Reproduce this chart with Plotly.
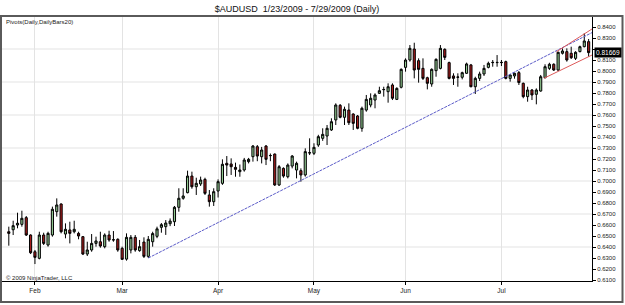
import plotly.graph_objects as go
import pandas as pd

# ---------------- data ----------------
dates = pd.bdate_range("2009-01-23", "2009-07-29").strftime("%Y-%m-%d").tolist()

opens = [0.6539, 0.6557, 0.6600, 0.6606, 0.6667, 0.6509, 0.6357, 0.6297, 0.6509, 0.6418,
         0.6509, 0.6721, 0.6791, 0.6518, 0.6555, 0.6539, 0.6524, 0.6494, 0.6336, 0.6373,
         0.6433, 0.6448, 0.6403, 0.6509, 0.6464, 0.6470, 0.6388, 0.6290, 0.6373, 0.6488,
         0.6367, 0.6445, 0.6315, 0.6448, 0.6497, 0.6579, 0.6585, 0.6612, 0.6630, 0.6761,
         0.6843, 0.6894, 0.7045, 0.6948, 0.6973, 0.7015, 0.6873, 0.6812, 0.6909, 0.6979,
         0.7161, 0.7155, 0.7124, 0.7085, 0.7100, 0.7176, 0.7221, 0.7312, 0.7221, 0.7318,
         0.7230, 0.7245, 0.6964, 0.7115, 0.7039, 0.7136, 0.7100, 0.7094, 0.7055, 0.7255,
         0.7252, 0.7327, 0.7388, 0.7409, 0.7464, 0.7555, 0.7688, 0.7579, 0.7645, 0.7609,
         0.7591, 0.7479, 0.7645, 0.7691, 0.7736, 0.7797, 0.7830, 0.7812, 0.7873, 0.7742,
         0.7852, 0.8033, 0.8100, 0.8200, 0.8094, 0.8024, 0.7939, 0.7882, 0.8003, 0.8024,
         0.8197, 0.8076, 0.7955, 0.7943, 0.7943, 0.7979, 0.8055, 0.7857, 0.7933, 0.7973,
         0.8033, 0.8076, 0.8076, 0.8076, 0.8085, 0.7933, 0.7955, 0.7985, 0.7888, 0.7767,
         0.7827, 0.7788, 0.7818, 0.7939, 0.8024, 0.8061, 0.8009, 0.8161, 0.8176, 0.8161,
         0.8115, 0.8176, 0.8221, 0.8267]

highs = [0.6585, 0.6639, 0.6712, 0.6730, 0.6682, 0.6515, 0.6373, 0.6539, 0.6530, 0.6539,
         0.6767, 0.6842, 0.6797, 0.6615, 0.6630, 0.6639, 0.6539, 0.6500, 0.6448, 0.6518,
         0.6494, 0.6539, 0.6524, 0.6548, 0.6545, 0.6479, 0.6403, 0.6524, 0.6509, 0.6509,
         0.6464, 0.6488, 0.6500, 0.6539, 0.6585, 0.6618, 0.6645, 0.6660, 0.6773, 0.6934,
         0.6934, 0.7094, 0.7085, 0.7030, 0.7040, 0.7030, 0.6918, 0.6934, 0.7015, 0.7197,
         0.7227, 0.7206, 0.7167, 0.7150, 0.7210, 0.7210, 0.7327, 0.7327, 0.7310, 0.7327,
         0.7250, 0.7250, 0.7145, 0.7124, 0.7160, 0.7236, 0.7176, 0.7115, 0.7297, 0.7388,
         0.7343, 0.7420, 0.7479, 0.7509, 0.7570, 0.7706, 0.7700, 0.7676, 0.7706, 0.7615,
         0.7600, 0.7676, 0.7782, 0.7797, 0.7797, 0.7857, 0.7857, 0.7888, 0.7888, 0.7852,
         0.8024, 0.8115, 0.8236, 0.8257, 0.8115, 0.8115, 0.7948, 0.8024, 0.8115, 0.8236,
         0.8206, 0.8085, 0.7979, 0.7979, 0.7994, 0.8076, 0.8064, 0.7948, 0.7994, 0.8055,
         0.8085, 0.8100, 0.8145, 0.8100, 0.8094, 0.7970, 0.7985, 0.8000, 0.7895, 0.7857,
         0.7836, 0.7842, 0.7964, 0.8061, 0.8075, 0.8070, 0.8176, 0.8206, 0.8206, 0.8221,
         0.8180, 0.8230, 0.8343, 0.8291]

lows = [0.6412, 0.6509, 0.6570, 0.6585, 0.6500, 0.6336, 0.6245, 0.6288, 0.6418, 0.6403,
        0.6494, 0.6676, 0.6524, 0.6479, 0.6433, 0.6524, 0.6470, 0.6327, 0.6318, 0.6357,
        0.6403, 0.6394, 0.6388, 0.6448, 0.6448, 0.6357, 0.6282, 0.6276, 0.6342, 0.6357,
        0.6357, 0.6300, 0.6300, 0.6403, 0.6480, 0.6530, 0.6510, 0.6590, 0.6591, 0.6721,
        0.6830, 0.6888, 0.6930, 0.6873, 0.6955, 0.6873, 0.6767, 0.6773, 0.6850, 0.6965,
        0.7045, 0.7055, 0.7039, 0.7039, 0.7085, 0.7160, 0.7176, 0.7180, 0.7160, 0.7145,
        0.7180, 0.6955, 0.6955, 0.7030, 0.7024, 0.7115, 0.7024, 0.6994, 0.7040, 0.7236,
        0.7236, 0.7310, 0.7365, 0.7327, 0.7455, 0.7509, 0.7570, 0.7509, 0.7509, 0.7464,
        0.7470, 0.7448, 0.7630, 0.7670, 0.7661, 0.7791, 0.7767, 0.7712, 0.7736, 0.7736,
        0.7842, 0.7994, 0.8085, 0.7933, 0.7894, 0.7918, 0.7833, 0.7857, 0.7948, 0.8015,
        0.8100, 0.7924, 0.7873, 0.7857, 0.7924, 0.7973, 0.7852, 0.7791, 0.7909, 0.7955,
        0.8024, 0.8039, 0.8039, 0.8045, 0.7924, 0.7903, 0.7930, 0.7873, 0.7752, 0.7721,
        0.7736, 0.7697, 0.7812, 0.7933, 0.8010, 0.8000, 0.8000, 0.8150, 0.8085, 0.8109,
        0.8100, 0.8170, 0.8215, 0.8130]

closes = [0.6524, 0.6594, 0.6616, 0.6661, 0.6509, 0.6348, 0.6306, 0.6509, 0.6433, 0.6524,
          0.6743, 0.6782, 0.6539, 0.6561, 0.6524, 0.6561, 0.6500, 0.6336, 0.6373, 0.6433,
          0.6455, 0.6409, 0.6509, 0.6464, 0.6466, 0.6373, 0.6288, 0.6488, 0.6488, 0.6373,
          0.6403, 0.6315, 0.6470, 0.6522, 0.6565, 0.6603, 0.6618, 0.6636, 0.6761, 0.6843,
          0.6864, 0.7045, 0.6948, 0.6979, 0.7009, 0.6888, 0.6812, 0.6903, 0.6994, 0.7152,
          0.7145, 0.7130, 0.7106, 0.7100, 0.7191, 0.7197, 0.7318, 0.7227, 0.7282, 0.7197,
          0.7232, 0.6964, 0.7130, 0.7045, 0.7145, 0.7227, 0.7161, 0.7055, 0.7267, 0.7257,
          0.7306, 0.7403, 0.7424, 0.7479, 0.7539, 0.7691, 0.7579, 0.7652, 0.7530, 0.7524,
          0.7479, 0.7661, 0.7742, 0.7752, 0.7782, 0.7821, 0.7832, 0.7857, 0.7752, 0.7842,
          0.8015, 0.8100, 0.8206, 0.8009, 0.8015, 0.7933, 0.7888, 0.8015, 0.8106, 0.8206,
          0.8124, 0.7933, 0.7933, 0.7945, 0.7985, 0.8064, 0.7857, 0.7933, 0.7973, 0.8024,
          0.8070, 0.8078, 0.8078, 0.8078, 0.7933, 0.7964, 0.7979, 0.7895, 0.7767, 0.7827,
          0.7782, 0.7827, 0.7948, 0.8039, 0.8061, 0.8009, 0.8170, 0.8182, 0.8100, 0.8121,
          0.8170, 0.8221, 0.8273, 0.81669]

month_labels = ["Feb", "Mar", "Apr", "May", "Jun", "Jul"]
y_tick_values = [round(0.61 + 0.01 * k, 2) for k in range(24)]
h_grid_values = [0.64, 0.67, 0.70, 0.73, 0.76, 0.79, 0.82]

# drawn trend lines (bar index, price)
blue_line_x = [32, 133.77]
blue_line_y = [0.6300, 0.8349]
red_upper_x = [125.6, 133.77]
red_upper_y = [0.8175, 0.8382]
red_lower_x = [122.75, 133.77]
red_lower_y = [0.7934, 0.8145]

title_text = "$AUDUSD\u00a0 1/23/2009 - 7/29/2009 (Daily)"
indicator_text = "Pivots(Daily,DailyBars20)"
copyright_text = "\u00a9 2009 NinjaTrader, LLC"

# ---------------- figure ----------------
idx = list(range(len(dates)))
month_starts = [i for i in idx if i > 0 and dates[i][5:7] != dates[i - 1][5:7]]

W, H = 625, 305
ML, MR, MT, MB = 2, 33, 16, 24
FONT = "Liberation Sans, Arial, sans-serif"

# the last-price marker hides the tick label it sits on
last = closes[-1]
y_tick_text = ["" if abs(v - last) < 0.005 else f"{v:.4f}" for v in y_tick_values]

fig = go.Figure()
fig.add_trace(go.Candlestick(
    x=idx, open=opens, high=highs, low=lows, close=closes,
    increasing=dict(line=dict(color="#000000", width=1), fillcolor="#90c890"),
    decreasing=dict(line=dict(color="#000000", width=1), fillcolor="#a81c1c"),
    whiskerwidth=0, showlegend=False, hoverinfo="skip",
))
fig.add_trace(go.Scatter(x=blue_line_x, y=blue_line_y, mode="lines",
                         line=dict(color="#5b5bc8", width=1, dash="3px,1px"),
                         showlegend=False, hoverinfo="skip"))
fig.add_trace(go.Scatter(x=red_upper_x, y=red_upper_y, mode="lines",
                         line=dict(color="#dd5a5a", width=1),
                         showlegend=False, hoverinfo="skip"))
fig.add_trace(go.Scatter(x=red_lower_x, y=red_lower_y, mode="lines",
                         line=dict(color="#dd5a5a", width=1),
                         showlegend=False, hoverinfo="skip"))

shapes = []
for v in h_grid_values:
    shapes.append(dict(type="line", xref="paper", yref="y", x0=0, x1=1, y0=v, y1=v,
                       line=dict(color="#e3e3e3", width=1), layer="below"))
pw, ph = W - ML - MR, H - MT - MB
def px_x(p):
    return (p - ML) / pw
def px_y(p):
    return (H - MB - p) / ph
shapes.append(dict(type="rect", xref="paper", yref="paper",
                   x0=px_x(1), x1=px_x(622.5), y0=px_y(302), y1=1.0,
                   line=dict(color="#5a5a5a", width=2), fillcolor="rgba(0,0,0,0)", layer="above"))

annotations = [
    dict(text=indicator_text, xref="paper", yref="paper", x=px_x(4), y=px_y(22),
         xanchor="left", yanchor="middle", showarrow=False,
         font=dict(family=FONT, size=6, color="#222")),
    dict(text=copyright_text, xref="paper", yref="paper", x=px_x(4), y=px_y(277.5),
         xanchor="left", yanchor="middle", showarrow=False,
         font=dict(family=FONT, size=6, color="#222")),
    dict(text=f"{last:.5f}", xref="paper", yref="y", x=1.0, xshift=2, y=last,
         xanchor="left", yanchor="middle", showarrow=False, bgcolor="#000000",
         borderpad=1, font=dict(family=FONT, size=6.5, color="#ffffff")),
]

fig.update_layout(
    template="none",
    width=W, height=H,
    margin=dict(l=ML, r=MR, t=MT, b=MB, pad=0),
    paper_bgcolor="white", plot_bgcolor="white",
    title=dict(text=title_text, x=0.5, xref="paper", xanchor="center",
               y=1 - 8.5 / H, yref="container", yanchor="middle",
               font=dict(family=FONT, size=9, color="#111")),
    shapes=shapes, annotations=annotations,
    xaxis=dict(range=[-1.56, 133.77], tickmode="array", tickvals=month_starts,
               ticktext=month_labels[:len(month_starts)],
               showgrid=True, gridcolor="#e3e3e3", gridwidth=1, zeroline=False,
               showline=True, linecolor="#000000", linewidth=1,
               ticks="outside", ticklen=3, tickcolor="#000000",
               tickfont=dict(family=FONT, size=6.5, color="#222"),
               rangeslider=dict(visible=False), automargin=False, fixedrange=True),
    yaxis=dict(range=[0.6091, 0.8500], side="right", tickmode="array",
               tickvals=y_tick_values, ticktext=y_tick_text,
               showgrid=False, zeroline=False,
               showline=True, linecolor="#000000", linewidth=1,
               ticks="outside", ticklen=3, tickcolor="#000000",
               tickfont=dict(family=FONT, size=6, color="#222"),
               automargin=False, fixedrange=True),
    hovermode=False,
)

fig.write_html("out.html", config={"displayModeBar": False, "staticPlot": True})
